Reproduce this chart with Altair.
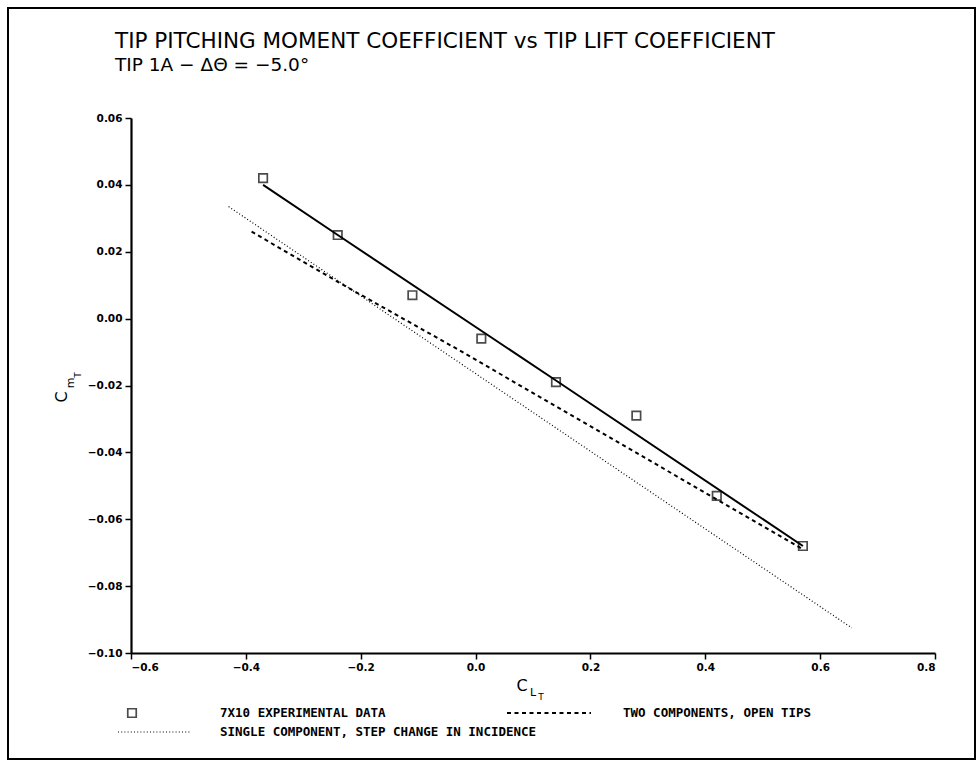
import altair as alt
import pandas as pd

# Measured data: 7x10 tunnel, tip 1A, delta-theta = -5.0 deg
exp_cl = [-0.37, -0.24, -0.11, 0.01, 0.14, 0.28, 0.42, 0.57]
exp_cm = [0.042, 0.025, 0.007, -0.006, -0.019, -0.029, -0.053, -0.068]

# Fit through the experimental data
fit_cl = [-0.37, -0.24, 0.14, 0.57]
fit_cm = [0.040, 0.025, -0.0185, -0.068]

# Theory: two components, open tips
two_cl = [-0.39, -0.24, -0.03, 0.57]
two_cm = [0.026, 0.011, -0.0093, -0.069]

# Theory: single component, step change in incidence
single_cl = [-0.43, 0.655]
single_cm = [0.0335, -0.0925]

x_ticks = [-0.6, -0.4, -0.2, 0.0, 0.2, 0.4, 0.6, 0.8]
y_ticks = [-0.10, -0.08, -0.06, -0.04, -0.02, 0.00, 0.02, 0.04, 0.06]

W, H = 804, 535
FONT = "DejaVu Sans"
MONO = "DejaVu Sans Mono"

xs = alt.Scale(domain=[-0.6, 0.8], nice=False, zero=False)
ys = alt.Scale(domain=[-0.10, 0.06], nice=False, zero=False)

x_enc = alt.X("cl:Q", scale=xs, title=None,
              axis=alt.Axis(values=x_ticks, format=".1f"))
y_enc = alt.Y("cm:Q", scale=ys, title=None,
              axis=alt.Axis(values=y_ticks, format=".2f"))


def frame(cl, cm):
    return pd.DataFrame({"cl": cl, "cm": cm})


points = alt.Chart(frame(exp_cl, exp_cm)).mark_point(
    shape="square", size=72, filled=False, color="black", strokeWidth=1.7
).encode(x=x_enc, y=y_enc)

fit = alt.Chart(frame(fit_cl, fit_cm)).mark_line(
    color="black", strokeWidth=2
).encode(x=x_enc, y=y_enc)

two = alt.Chart(frame(two_cl, two_cm)).mark_line(
    color="black", strokeWidth=2, strokeDash=[4, 3.5]
).encode(x=x_enc, y=y_enc)

single = alt.Chart(frame(single_cl, single_cm)).mark_line(
    color="black", strokeWidth=1.2, strokeDash=[1, 2.2]
).encode(x=x_enc, y=y_enc)

# Outer border of the figure
border = alt.Chart(pd.DataFrame({"k": [0]})).mark_rect(
    fill=None, stroke="black", strokeWidth=2
).encode(x=alt.value(-123), x2=alt.value(844), y=alt.value(-110), y2=alt.value(641))


def label(text, x, y, size, angle=0, align="left", baseline="alphabetic",
          font=FONT, weight="normal"):
    return alt.Chart(pd.DataFrame({"t": [text]})).mark_text(
        align=align, baseline=baseline, fontSize=size, font=font,
        fontWeight=weight, angle=angle, color="black"
    ).encode(text="t:N", x=alt.value(x), y=alt.value(y))


titles = [
    label("TIP PITCHING MOMENT COEFFICIENT vs TIP LIFT COEFFICIENT", -16, -70, 21.5),
    label("TIP 1A \u2212 \u0394\u0398 = \u22125.0\u00b0", -16, -47, 18.5),
]

# Axis titles with subscripts
axis_titles = [
    label("C", -69, 279, 16, angle=270, align="center", baseline="middle"),
    label("m", -60, 265, 11, angle=270, align="center", baseline="middle"),
    label("T", -53, 257, 9, angle=270, align="center", baseline="middle"),
    label("C", 391, 568, 16, align="center", baseline="middle"),
    label("L", 402, 575, 11, align="center", baseline="middle"),
    label("T", 410, 579, 9, align="center", baseline="middle"),
]

# Legend
leg_square = alt.Chart(pd.DataFrame({"k": [0]})).mark_point(
    shape="square", size=72, filled=False, color="black", strokeWidth=1.7
).encode(x=alt.value(1), y=alt.value(595))

leg_dash = alt.Chart(pd.DataFrame({"k": [0]})).mark_rule(
    color="black", strokeWidth=2, strokeDash=[4, 3.5]
).encode(x=alt.value(376), x2=alt.value(460), y=alt.value(595))

leg_dot = alt.Chart(pd.DataFrame({"k": [0]})).mark_rule(
    color="black", strokeWidth=1.2, strokeDash=[1, 2.2]
).encode(x=alt.value(-13), x2=alt.value(59), y=alt.value(614))

legend_text = [
    label("7X10 EXPERIMENTAL DATA", 89, 595, 12.5, baseline="middle", font=MONO, weight="bold"),
    label("TWO COMPONENTS, OPEN TIPS", 492, 595, 12.5, baseline="middle", font=MONO, weight="bold"),
    label("SINGLE COMPONENT, STEP CHANGE IN INCIDENCE", 89, 614, 12.5, baseline="middle",
          font=MONO, weight="bold"),
]

chart = alt.layer(
    border, single, two, fit, points, *titles, *axis_titles,
    leg_square, leg_dash, leg_dot, *legend_text
).properties(
    width=W, height=H,
    autosize=alt.AutoSizeParams(type="none"),
    padding={"left": 131, "top": 118, "right": 44, "bottom": 110},
    background="white",
).configure_view(
    stroke=None
).configure_axis(
    grid=False,
    domainColor="black", domainWidth=2.2,
    tickColor="black", tickWidth=1.5, tickSize=6,
    labelColor="black", labelFont=FONT, labelFontWeight="bold", labelFontSize=10.5,
    labelPadding=3,
)

chart.save("out.html", embed_options={"renderer": "svg", "actions": False})
